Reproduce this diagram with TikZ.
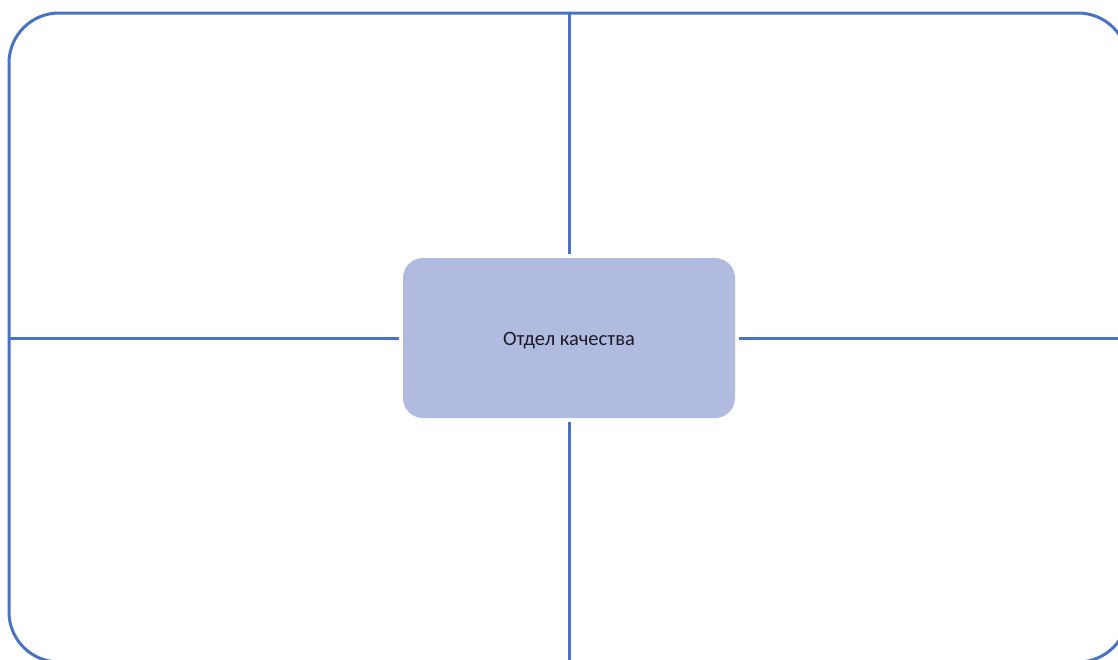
\documentclass[tikz,border=0pt]{standalone}
\usepackage{fontspec}
\setmainfont{Carlito}
\definecolor{lineblue}{HTML}{4A72C2}
\definecolor{boxfill}{HTML}{B0BBDF}
\definecolor{textdark}{HTML}{1C1C28}
\begin{document}
\begin{tikzpicture}[x=1pt,y=-1pt,
  frame/.style={draw=lineblue,line width=3pt,rounded corners=50pt},
  divider/.style={draw=lineblue,line width=3pt},
  centerbox/.style={fill=boxfill,rounded corners=20pt,minimum width=332pt,minimum height=160pt,inner sep=0pt,outer sep=0pt,font=\fontsize{20.5}{24}\selectfont,text=textdark}]
\useasboundingbox (0,0) rectangle (1118,659);
\clip (0,0) rectangle (1118,659);
\fill[white] (0,0) rectangle (1118,659);
\draw[frame] (9,13) rectangle (1128,662);
\node[centerbox] (c) at (569,338) {};
\node[font=\fontsize{20.5}{24}\selectfont,text=textdark,inner sep=0pt] (lbl) at (569,341) {Отдел качества};
\coordinate (top) at (569,13);
\coordinate (bottom) at (569,662);
\coordinate (left) at (9,338);
\coordinate (right) at (1128,338);
\draw[divider,shorten >=4pt] (top) -- (c.north);
\draw[divider,shorten >=4pt] (bottom) -- (c.south);
\draw[divider,shorten >=4pt] (left) -- (c.west);
\draw[divider,shorten >=4pt] (right) -- (c.east);
\end{tikzpicture}
\end{document}
